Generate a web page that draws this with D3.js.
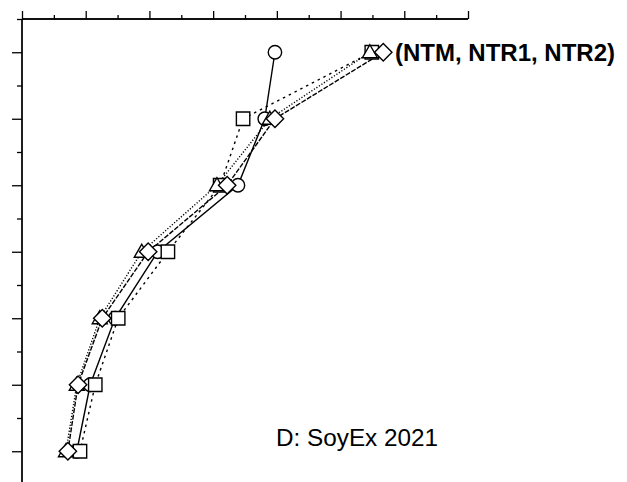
<!DOCTYPE html>
<html><head><meta charset="utf-8">
<script src="https://cdn.jsdelivr.net/npm/d3@7"></script>
<style>body{margin:0;background:#fff}svg{display:block}</style>
</head><body>
<svg id="c" width="627" height="482"></svg>
<script>
const depths = [5, 15, 25, 35, 45, 55, 65];
const circleVals   = [3.97, 3.81, 3.39, 2.13, 1.46, 1.07, 0.86];
const squareVals   = [5.49, 3.47, 3.11, 2.29, 1.51, 1.15, 0.91];
const triangleVals = [5.46, 3.89, 3.06, 1.88, 1.22, 0.86, 0.69];
const diamondVals  = [5.67, 3.97, 3.22, 1.98, 1.26, 0.88, 0.72];
const xMajor = [0,1,2,3,4,5,6,7];
const xMinor = [0.5,1.5,2.5,3.5,4.5,5.5,6.5];
const yMajor = [5,15,25,35,45,55,65];
const yMinor = [0,10,20,30,40,50,60];
const label1 = "(NTM, NTR1, NTR2)";
const label2 = "D: SoyEx 2021";

const svg = d3.select("#c");
const x = d3.scaleLinear().domain([0,7]).range([22,468]);
const y = d3.scaleLinear().domain([0,70]).range([19,484.5]);

// top axis
const gt = svg.append("g").attr("transform","translate(0,19)");
gt.call(d3.axisTop(x).tickValues(xMajor).tickSize(8).tickFormat(""));
gt.append("g").call(d3.axisTop(x).tickValues(xMinor).tickSize(4).tickFormat(""));
gt.selectAll(".domain").attr("d", `M${x(0)},0H${x(7)}`);
// left axis
const gl = svg.append("g").attr("transform","translate(22,0)");
gl.call(d3.axisLeft(y).tickValues(yMajor).tickSize(10).tickFormat(""));
gl.append("g").call(d3.axisLeft(y).tickValues(yMinor).tickSize(5).tickFormat(""));
gl.selectAll(".domain").attr("d", `M0,${y(0)}V482`);
svg.selectAll(".domain, .tick line").attr("stroke","#000").attr("stroke-width",1.3);

const series = [
  {vals: circleVals,   dash: null,        shape: "circle"},
  {vals: squareVals,   dash: "2.5,4",     shape: "square"},
  {vals: triangleVals, dash: "1.2,1.8",   shape: "triangle"},
  {vals: diamondVals,  dash: "5,1.5",     shape: "diamond"}
];
const line = d3.line().x(d=>x(d[0])).y(d=>y(d[1]));
series.forEach(s=>{
  svg.append("path").datum(s.vals.map((v,i)=>[v,depths[i]]))
    .attr("d", line).attr("fill","none").attr("stroke","#000")
    .attr("stroke-width",1.4).attr("stroke-dasharray", s.dash);
});
const shapes = {
  circle: "M6.7,0A6.7,6.7 0 1,1 -6.7,0A6.7,6.7 0 1,1 6.7,0Z",
  square: "M-6.7,-6.7H6.7V6.7H-6.7Z",
  triangle: "M0,-7.5L7.5,5.5H-7.5Z",
  diamond: "M0,-8.7L8.7,0L0,8.7L-8.7,0Z"
};
series.forEach(s=>{
  svg.append("g").selectAll("path").data(s.vals.map((v,i)=>[v,depths[i]])).join("path")
    .attr("transform", d=>`translate(${x(d[0])},${y(d[1])})`)
    .attr("d", shapes[s.shape]).attr("fill","#fff").attr("stroke","#000").attr("stroke-width",1.4);
});

svg.append("text").attr("x", 395).attr("y", 61).text(label1)
  .attr("font-family","Liberation Sans, Arial, sans-serif").attr("font-weight","bold").attr("font-size",24);
svg.append("text").attr("x", 276).attr("y", 446).text(label2)
  .attr("font-family","Liberation Sans, Arial, sans-serif").attr("font-size",24.3);
</script>
</body></html>
